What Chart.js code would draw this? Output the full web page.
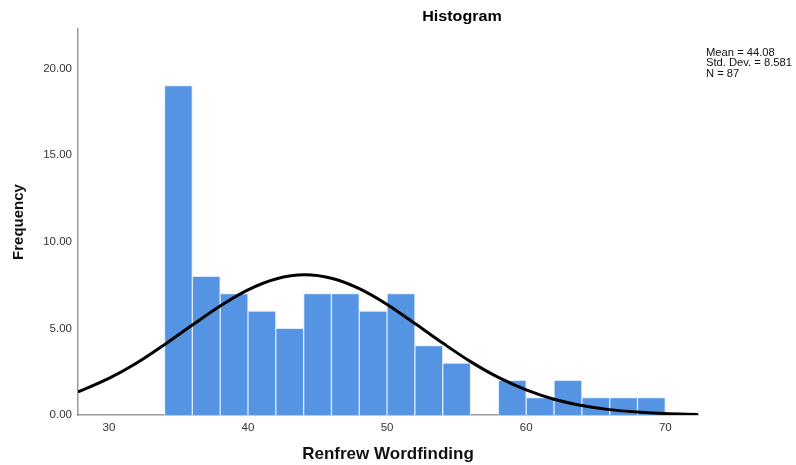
<!DOCTYPE html>
<html>
<head>
<meta charset="utf-8">
<script src="https://cdn.jsdelivr.net/npm/chart.js@4.4.1/dist/chart.umd.min.js"></script>
<style>
  html, body { margin: 0; padding: 0; background: #fff; overflow: hidden; }
  canvas { display: block; }
</style>
</head>
<body>
<canvas id="chart" width="796" height="465"></canvas>
<script>
// bins of width 2 (centres) and counts
const binCentres = [35, 37, 39, 41, 43, 45, 47, 49, 51, 53, 55, 57, 59, 61, 63, 65, 67, 69];
const binCounts  = [19, 8, 7, 6, 5, 7, 7, 6, 7, 4, 3, 0, 2, 1, 2, 1, 1, 1];

// normal curve
const curveX = [27.78, 30, 32, 34, 36, 38, 40, 42, 44.08, 46, 48, 50, 52, 54, 56, 58, 60, 62, 64, 66, 68, 70, 72.35];
const curveY = [1.33, 2.11, 3.00, 4.06, 5.19, 6.29, 7.22, 7.85, 8.09, 7.89, 7.29, 6.38, 5.28, 4.15, 3.08, 2.17, 1.45, 0.91, 0.55, 0.31, 0.17, 0.08, 0.035];

const xTicks = [30, 40, 50, 60, 70];
const yTicks = [0, 5, 10, 15, 20];

const stats = ["Mean = 44.08", "Std. Dev. = 8.581", "N = 87"];

// titulo y cuadro de estadisticas
const textPlugin = {
  id: "spssText",
  afterDraw(chart) {
    const ctx = chart.ctx;
    ctx.save();
    ctx.fillStyle = "#000";
    ctx.textBaseline = "middle";
    ctx.font = "bold 14px 'Liberation Sans', Arial, sans-serif";
    ctx.textAlign = "center";
    ctx.translate(462, 17);
    ctx.scale(1.15, 1);
    ctx.fillText("Histogram", 0, 0);
    ctx.restore();

    ctx.save();
    ctx.fillStyle = "#111";
    ctx.textBaseline = "middle";
    ctx.textAlign = "left";
    ctx.font = "10px 'Liberation Sans', Arial, sans-serif";
    stats.forEach((s, i) => {
      ctx.save();
      ctx.translate(706, 53 + i * 10.5);
      ctx.scale(1.12, 1);
      ctx.fillText(s, 0, 0);
      ctx.restore();
    });
    ctx.restore();
  }
};

const ctx = document.getElementById("chart");
new Chart(ctx, {
  data: {
    datasets: [
      {
        type: "line",
        order: 0,
        data: curveX.map((x, i) => ({ x, y: curveY[i] })),
        borderColor: "#000",
        borderWidth: 3,
        pointRadius: 0,
        cubicInterpolationMode: "monotone",
        fill: false
      },
      {
        type: "bar",
        order: 1,
        data: binCentres.map((x, i) => ({ x, y: binCounts[i] })),
        backgroundColor: "#5594e2",
        borderColor: "#dce9fa",
        borderWidth: 1,
        barPercentage: 1,
        categoryPercentage: 1
      }
    ]
  },
  options: {
    responsive: false,
    animation: false,
    devicePixelRatio: 1,
    layout: { padding: { left: 0, right: 98, top: 29, bottom: 0 } },
    plugins: {
      legend: { display: false },
      tooltip: { enabled: false },
      title: { display: false }
    },
    scales: {
      x: {
        type: "linear",
        min: 27.78,
        max: 72.35,
        offset: false,
        grid: { display: false, drawTicks: false },
        border: { display: true, color: "#9a9a9a", width: 1.5 },
        afterBuildTicks: (scale) => { scale.ticks = xTicks.map(v => ({ value: v })); },
        afterFit: (scale) => { scale.height = 50; },
        ticks: {
          padding: 6,
          color: "#333",
          font: { family: "'Liberation Sans', Arial, sans-serif", size: 11.5 },
          callback: (v) => String(v)
        },
        title: {
          display: true,
          text: "Renfrew Wordfinding",
          color: "#111",
          font: { family: "'Liberation Sans', Arial, sans-serif", size: 17, weight: "bold" },
          padding: { top: 0, bottom: 0 }
        }
      },
      y: {
        type: "linear",
        min: 0,
        max: 22.27,
        grid: { display: false, drawTicks: false },
        border: { display: true, color: "#9a9a9a", width: 1.5 },
        afterBuildTicks: (scale) => { scale.ticks = yTicks.map(v => ({ value: v })); },
        afterFit: (scale) => { scale.width = 78; },
        ticks: {
          padding: 6,
          color: "#333",
          font: { family: "'Liberation Sans', Arial, sans-serif", size: 11.5 },
          callback: (v) => Number(v).toFixed(2)
        },
        title: {
          display: true,
          text: "Frequency",
          color: "#111",
          font: { family: "'Liberation Sans', Arial, sans-serif", size: 15, weight: "bold" },
          padding: { top: 10, bottom: 0 }
        }
      }
    }
  },
  plugins: [textPlugin]
});
</script>
</body>
</html>
